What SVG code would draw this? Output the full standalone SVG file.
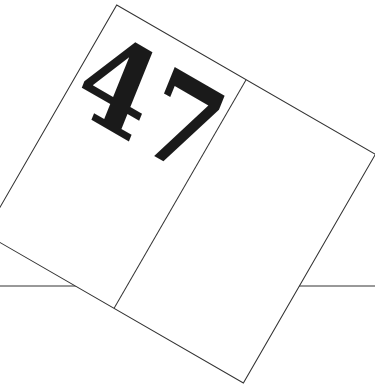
<svg xmlns="http://www.w3.org/2000/svg" width="375" height="387" viewBox="0 0 375 387">
<style>
.ln{stroke:#333;stroke-width:1;fill:none}
.card{fill:#fff;stroke:#333;stroke-width:1}
.num{font-family:'DejaVu Serif',serif;font-weight:700;fill:#1a1a1a}
</style>
<rect width="375" height="387" fill="#fff"/>
<g id="ground"><line class="ln" x1="0" y1="286" x2="375" y2="286"/></g>
<g id="card" transform="translate(116.7,5) rotate(30)">
<rect class="card" x="0" y="0" width="298.7" height="264"/>
<line class="ln" x1="149.4" y1="0" x2="149.4" y2="264"/>
<g transform="translate(85,112) skewX(8) scale(0.9,1)">
<text class="num" x="0" y="0" font-size="120" text-anchor="middle">47</text>
</g>
</g>
</svg>
